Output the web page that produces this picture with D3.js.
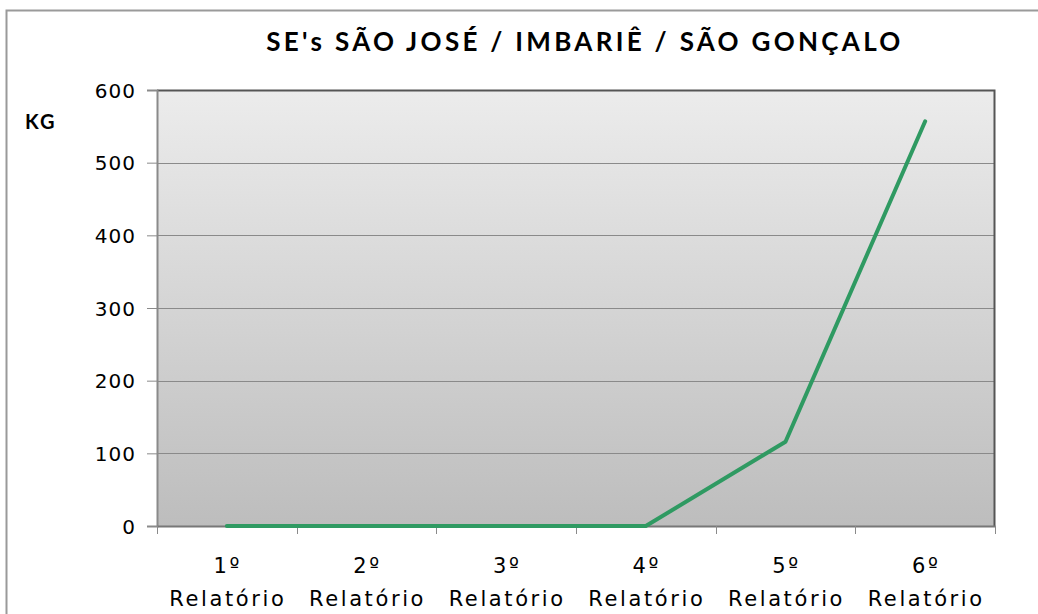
<!DOCTYPE html>
<html>
<head>
<meta charset="utf-8">
<script src="https://cdn.jsdelivr.net/npm/d3@7"></script>
<style>
  body { margin: 0; background: #fff; }
  svg text { fill: #000; }
</style>
</head>
<body>
<div class="container"></div>
<script>
(function () {
  const categories = ['1º Relatório', '2º Relatório', '3º Relatório', '4º Relatório', '5º Relatório', '6º Relatório']
  const values = [0, 0, 0, 0, 116, 557]
  const yTicks = [0, 100, 200, 300, 400, 500, 600]
  const title = "SE's SÃO JOSÉ / IMBARIÊ / SÃO GONÇALO"
  const yLabel = 'KG'

  var W = 1038
  var H = 614
  var margin = { top: 90, right: 43, bottom: 88, left: 157 }
  var width = W - margin.left - margin.right
  var height = H - margin.top - margin.bottom

  var svg = d3.select('.container')
    .append('svg')
    .attr('width', W)
    .attr('height', H)

  // outer chart frame
  svg.append('rect')
    .attr('x', 6.5).attr('y', 10.5)
    .attr('width', W + 20).attr('height', H + 20)
    .attr('fill', 'none')
    .attr('stroke', '#9a9a9a')
    .attr('stroke-width', 2)

  var defs = svg.append('defs')
  var grad = defs.append('linearGradient')
    .attr('id', 'bg').attr('x1', 0).attr('y1', 0).attr('x2', 0).attr('y2', 1)
  grad.append('stop').attr('offset', '0%').attr('stop-color', '#ececec')
  grad.append('stop').attr('offset', '100%').attr('stop-color', '#bdbdbd')

  var g = svg.append('g')
    .attr('transform', 'translate(' + margin.left + ',' + margin.top + ')')

  var x = d3.scaleBand().domain(categories).range([0, width])
  var y = d3.scaleLinear().domain([0, 600]).range([height, 0])

  g.append('rect')
    .attr('width', width).attr('height', height)
    .attr('fill', 'url(#bg)')

  // gridlines
  g.append('g')
    .selectAll('line')
    .data(yTicks.filter(function (d) { return d > 0 }))
    .enter().append('line')
    .attr('x1', 0).attr('x2', width)
    .attr('y1', function (d) { return Math.round(y(d)) + 0.5 })
    .attr('y2', function (d) { return Math.round(y(d)) + 0.5 })
    .attr('stroke', '#8a8a8a')

  // top and right border
  g.append('path')
    .attr('d', 'M0,0.5H' + (width - 0.5) + 'V' + height)
    .attr('fill', 'none')
    .attr('stroke', '#555')
    .attr('stroke-width', 2)

  // y axis
  var yAxis = g.append('g')
    .call(d3.axisLeft(y).tickValues(yTicks).tickSize(10).tickPadding(11))
  yAxis.select('.domain').attr('stroke', '#8a8a8a').attr('stroke-width', 2)
  yAxis.selectAll('.tick line').attr('stroke', '#8a8a8a')
  yAxis.selectAll('text')
    .style('font-family', '"DejaVu Sans", sans-serif')
    .style('font-size', '20px')
    .style('letter-spacing', '1px')
    .attr('dy', '0.36em')

  // x axis
  var xAxis = g.append('g')
    .attr('transform', 'translate(0,' + height + ')')
    .call(d3.axisBottom(x).tickSize(0).tickFormat(''))
  xAxis.select('.domain').attr('stroke', '#777').attr('stroke-width', 2)

  var bounds = x.domain().map(function (d) { return x(d) }).concat([width])
  xAxis.selectAll('line.sep')
    .data(bounds)
    .enter().append('line')
    .attr('class', 'sep')
    .attr('x1', function (d) { return Math.round(d) + 0.5 })
    .attr('x2', function (d) { return Math.round(d) + 0.5 })
    .attr('y1', 0).attr('y2', 8)
    .attr('stroke', '#8a8a8a')

  var labels = xAxis.selectAll('text.cat')
    .data(categories)
    .enter().append('text')
    .attr('class', 'cat')
    .attr('text-anchor', 'middle')
    .style('font-family', '"DejaVu Sans", sans-serif')
    .style('font-size', '21px')
    .style('letter-spacing', '2.6px')
  labels.append('tspan')
    .attr('x', function (d) { return x(d) + x.bandwidth() / 2 + 1 })
    .attr('y', 47)
    .text(function (d) { return d.split(' ')[0] })
  labels.append('tspan')
    .attr('x', function (d) { return x(d) + x.bandwidth() / 2 + 1 })
    .attr('y', 80)
    .text(function (d) { return d.split(' ')[1] })

  // line
  var line = d3.line()
    .x(function (d, i) { return x(categories[i]) + x.bandwidth() / 2 })
    .y(function (d) { return y(d) })
  g.append('path')
    .attr('d', line(values))
    .attr('fill', 'none')
    .attr('stroke', '#2f9a62')
    .attr('stroke-width', 4)
    .attr('stroke-linejoin', 'round')
    .attr('stroke-linecap', 'round')

  svg.append('text')
    .attr('x', 585).attr('y', 51)
    .attr('text-anchor', 'middle')
    .style('font-family', 'Lato, sans-serif')
    .style('font-weight', 'bold')
    .style('font-size', '26px')
    .style('letter-spacing', '3.3px')
    .text(title)

  svg.append('text')
    .attr('x', 25).attr('y', 129)
    .style('font-family', 'Lato, sans-serif')
    .style('font-weight', 'bold')
    .style('font-size', '20px')
    .style('letter-spacing', '2px')
    .text(yLabel)
}())
</script>
</body>
</html>
